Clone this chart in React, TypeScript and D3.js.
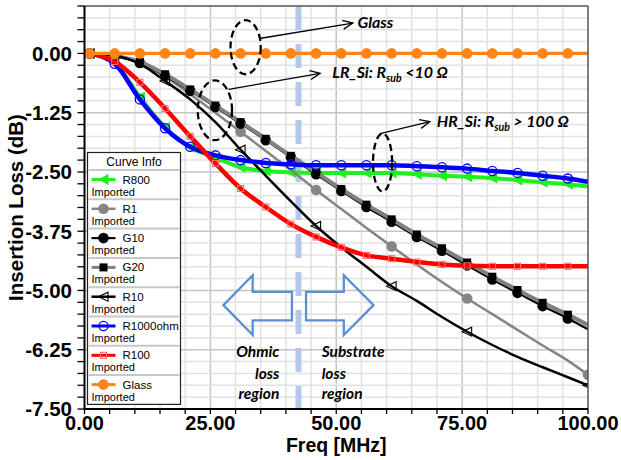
import React from 'react';
import * as d3 from 'd3';

// ---------------- data ----------------
const FREQ = [1, 6, 11, 16, 21, 26, 31, 36, 41, 46, 51, 56, 61, 66, 71, 76, 81, 86, 91, 96, 100];
const R800 = [0, -0.21, -0.92, -1.56, -1.98, -2.2, -2.4, -2.48, -2.51, -2.52, -2.52, -2.52, -2.52, -2.55, -2.58, -2.6, -2.63, -2.67, -2.72, -2.76, -2.81];
const R1 = [0, -0.05, -0.2, -0.49, -0.86, -1.25, -1.65, -2.06, -2.46, -2.88, -3.28, -3.68, -4.07, -4.45, -4.82, -5.17, -5.5, -5.83, -6.16, -6.48, -6.78];
const G10 = [0, -0.06, -0.2, -0.47, -0.79, -1.13, -1.48, -1.83, -2.19, -2.55, -2.9, -3.24, -3.55, -3.87, -4.16, -4.47, -4.77, -5.05, -5.33, -5.59, -5.82];
const G20 = [0, -0.05, -0.18, -0.44, -0.76, -1.1, -1.45, -1.8, -2.16, -2.51, -2.86, -3.19, -3.5, -3.82, -4.11, -4.41, -4.71, -4.99, -5.26, -5.51, -5.73];
const R10 = [0, -0.05, -0.22, -0.58, -0.97, -1.45, -2.03, -2.58, -3.12, -3.64, -4.09, -4.5, -4.91, -5.22, -5.56, -5.87, -6.15, -6.4, -6.62, -6.83, -7.0];
const R1000OHM = [0, -0.22, -0.97, -1.58, -1.97, -2.15, -2.25, -2.31, -2.34, -2.36, -2.36, -2.36, -2.36, -2.38, -2.4, -2.43, -2.48, -2.52, -2.58, -2.64, -2.71];
const R100 = [0, -0.17, -0.61, -1.16, -1.75, -2.32, -2.85, -3.24, -3.6, -3.87, -4.09, -4.26, -4.33, -4.4, -4.45, -4.48, -4.49, -4.49, -4.49, -4.49, -4.49];
const GLASS = [0, 0, 0, 0, 0, 0, 0, 0, 0, 0, 0, 0, 0, 0, 0, 0, 0, 0, 0, 0, 0];

const SERIES_NAMES = ['R800', 'R1', 'G10', 'G20', 'R10', 'R1000ohm', 'R100', 'Glass'];
const SERIES_VALUES = [R800, R1, G10, G20, R10, R1000OHM, R100, GLASS];
const MARKERS_EVERY = [0, 1, 2, 3, 4, 5, 6, 7, 8, 9, 10, 11, 12, 13, 14, 15, 16, 17, 18, 19];
const MARKERS_SPARSE = [0, 3, 6, 9, 12, 15, 20];

const X_TICKS = [0, 25, 50, 75, 100];
const Y_TICKS = [0, -1.25, -2.5, -3.75, -5, -6.25, -7.5];
const DIVIDER_FREQ = 42.5;

// ---------------- styles ----------------
type Style = { color: string; width: number; marker: string; mcolor: string; idx: number[] };
const STYLES: Record<string, Style> = {
  R800: { color: '#1ff01f', width: 4, marker: 'triL', mcolor: '#1ff01f', idx: MARKERS_EVERY },
  R1: { color: '#858585', width: 2.5, marker: 'circle', mcolor: '#858585', idx: MARKERS_SPARSE },
  G10: { color: '#000000', width: 2.2, marker: 'circle', mcolor: '#000000', idx: MARKERS_EVERY },
  G20: { color: '#808080', width: 4, marker: 'square', mcolor: '#000000', idx: MARKERS_EVERY },
  R10: { color: '#000000', width: 2.5, marker: 'triLOpen', mcolor: '#000000', idx: MARKERS_SPARSE },
  R1000ohm: { color: '#0000ff', width: 4.5, marker: 'circleOpen', mcolor: '#0000ff', idx: MARKERS_EVERY },
  R100: { color: '#ff0000', width: 4.5, marker: 'squareOpen', mcolor: '#ff6a6a', idx: MARKERS_EVERY },
  Glass: { color: '#ff8519', width: 3.3, marker: 'circle', mcolor: '#ff8519', idx: MARKERS_EVERY },
};

const W = 621;
const H = 460;
const PL = 84.5, PR = 588, PT = 6, PB = 409;

const x = d3.scaleLinear().domain([0, 100]).range([PL, PR]);
const y = d3.scaleLinear().domain([-7.5, 1]).range([PB, PT]);

function Marker({ kind, cx, cy, color }: { kind: string; cx: number; cy: number; color: string }) {
  switch (kind) {
    case 'triL':
      return <polygon points={`${cx - 5.5},${cy} ${cx + 5},${cy - 5.5} ${cx + 5},${cy + 5.5}`} fill={color} />;
    case 'triLOpen':
      return <polygon points={`${cx - 5},${cy} ${cx + 4.5},${cy - 4.5} ${cx + 4.5},${cy + 4.5}`} fill="none" stroke={color} strokeWidth={1.1} />;
    case 'circle':
      return <circle cx={cx} cy={cy} r={5.3} fill={color} />;
    case 'circleOpen':
      return <circle cx={cx} cy={cy} r={4.6} fill="none" stroke={color} strokeWidth={1.3} />;
    case 'square':
      return <rect x={cx - 4} y={cy - 4} width={8} height={8} fill={color} />;
    case 'squareOpen':
      return <rect x={cx - 3} y={cy - 3} width={6} height={6} fill="none" stroke={color} strokeWidth={1.1} />;
    default:
      return null;
  }
}

function arrowHead(x1: number, y1: number, x2: number, y2: number, len = 11, ang = 0.42) {
  const a = Math.atan2(y2 - y1, x2 - x1);
  const p1 = [x2 - len * Math.cos(a - ang), y2 - len * Math.sin(a - ang)];
  const p2 = [x2 - len * Math.cos(a + ang), y2 - len * Math.sin(a + ang)];
  return `M${p1[0]},${p1[1]} L${x2},${y2} L${p2[0]},${p2[1]}`;
}

export default function App() {
  const line = d3
    .line<[number, number]>()
    .x((d) => x(d[0]))
    .y((d) => y(d[1]))
    .curve(d3.curveMonotoneX);

  const xGrid = d3.range(1, 20).map((i) => i * 5);
  const yGrid = d3.range(1, 34).map((i) => -7.5 + i * 0.25);
  const isMajorX = (v: number) => Math.abs(v / 25 - Math.round(v / 25)) < 1e-6;
  const isMajorY = (v: number) => Math.abs(v / 1.25 - Math.round(v / 1.25)) < 1e-6;

  const annFont = 'Lato, "Open Sans", sans-serif';
  const tickFont = '"Liberation Sans", Arial, sans-serif';

  // big outline arrows (data units)
  const la = { tip: 27.6, head: 33.4, end: 41.2 };
  const ra = { start: 44, head: 51.5, tip: 57.4 };
  const ay = { mid: -5.31, hTop: -4.68, hBot: -5.94, sTop: -5.03, sBot: -5.63 };
  const leftArrow = [
    [la.tip, ay.mid], [la.head, ay.hTop], [la.head, ay.sTop], [la.end, ay.sTop],
    [la.end, ay.sBot], [la.head, ay.sBot], [la.head, ay.hBot],
  ].map((p) => `${x(p[0])},${y(p[1])}`).join(' ');
  const rightArrow = [
    [ra.tip, ay.mid], [ra.head, ay.hTop], [ra.head, ay.sTop], [ra.start, ay.sTop],
    [ra.start, ay.sBot], [ra.head, ay.sBot], [ra.head, ay.hBot],
  ].map((p) => `${x(p[0])},${y(p[1])}`).join(' ');

  const ellipses = [
    { f: 32.0, v: 0.13, rf: 3.0, rv: 0.57 },
    { f: 25.9, v: -1.2, rf: 3.4, rv: 0.63 },
    { f: 59.2, v: -2.3, rf: 1.9, rv: 0.61 },
  ];
  const pointers = [
    { f1: 35.05, v1: 0.32, f2: 53.3, v2: 0.64 },
    { f1: 28.6, v1: -0.76, f2: 46.8, v2: -0.42 },
    { f1: 58.7, v1: -1.69, f2: 68.6, v2: -1.44 },
  ];

  const legX = 87.5, legY = 152.5, legW = 93, rowH = 29.3, headH = 17.5;

  return (
    <svg width={W} height={H} style={{ position: 'absolute', left: 0, top: 0, background: '#fff' }}>
      <defs>
        <clipPath id="plotClip">
          <rect x={PL} y={PT} width={PR - PL} height={PB - PT} />
        </clipPath>
      </defs>
      <rect x={0} y={0} width={W} height={H} fill="#fff" />
      {/* grid */}
      {xGrid.map((v) => (
        <line key={'gx' + v} x1={x(v)} x2={x(v)} y1={PT} y2={PB} stroke={isMajorX(v) ? '#c4c4c4' : '#e2e2e2'} strokeWidth={1.5} />
      ))}
      {yGrid.map((v) => (
        <line key={'gy' + v} x1={PL} x2={PR} y1={y(v)} y2={y(v)} stroke={isMajorY(v) ? '#c4c4c4' : '#e2e2e2'} strokeWidth={1.5} />
      ))}
      {/* divider */}
      <line x1={x(DIVIDER_FREQ)} x2={x(DIVIDER_FREQ)} y1={PT} y2={PB} stroke="#b3c8ea" strokeWidth={6} strokeDasharray="24,14" />
      {/* region arrows */}
      <polygon points={leftArrow} fill="none" stroke="#5b8fd3" strokeWidth={2.3} />
      <polygon points={rightArrow} fill="none" stroke="#5b8fd3" strokeWidth={2.3} />
      {/* series */}
      <g clipPath="url(#plotClip)">
        {SERIES_NAMES.map((name, si) => {
          const st = STYLES[name];
          const pts: [number, number][] = FREQ.map((f, i) => [f, SERIES_VALUES[si][i]]);
          return (
            <g key={name}>
              <path d={line(pts) || ''} fill="none" stroke={st.color} strokeWidth={st.width} strokeLinejoin="round" />
              {st.idx.map((i) => (
                <Marker key={i} kind={st.marker} cx={x(pts[i][0])} cy={y(pts[i][1])} color={st.mcolor} />
              ))}
            </g>
          );
        })}
      </g>
      {/* frame */}
      <line x1={PL} x2={PR} y1={PT} y2={PT} stroke="#555" strokeWidth={1.5} />
      <line x1={PR} x2={PR} y1={PT} y2={PB} stroke="#555" strokeWidth={1.5} />
      <line x1={PL} x2={PL} y1={PT} y2={PB + 1} stroke="#000" strokeWidth={2} />
      <line x1={PL - 1} x2={PR} y1={PB} y2={PB} stroke="#000" strokeWidth={2} />
      {/* ticks */}
      {[...yGrid, -7.5, 1].map((v) => (
        <line key={'ty' + v} x1={PL - 7} x2={PL} y1={y(v)} y2={y(v)} stroke="#000" strokeWidth={1.3} />
      ))}
      {[0, ...xGrid, 100].map((v) => (
        <line key={'tx' + v} x1={x(v)} x2={x(v)} y1={PB} y2={PB + 5} stroke="#000" strokeWidth={1.3} />
      ))}
      {Y_TICKS.map((v) => (
        <text key={'ly' + v} x={72} y={y(v)} dy="0.36em" textAnchor="end" fontFamily={tickFont} fontWeight="bold" fontSize={20.5} fill="#000">
          {v.toFixed(2)}
        </text>
      ))}
      {X_TICKS.map((v) => (
        <text key={'lx' + v} x={x(v)} y={430} textAnchor="middle" fontFamily={tickFont} fontWeight="bold" fontSize={20} fill="#000">
          {v.toFixed(2)}
        </text>
      ))}
      <text x={(PL + PR) / 2} y={452} textAnchor="middle" fontFamily={tickFont} fontWeight="bold" fontSize={19.5}>Freq [MHz]</text>
      <text transform={`translate(23,${(PT + PB) / 2}) rotate(-90)`} textAnchor="middle" fontFamily={tickFont} fontWeight="bold" fontSize={20.5}>
        Insertion Loss (dB)
      </text>
      {/* region labels */}
      {['Ohmic', 'loss', 'region'].map((t, i) => (
        <text key={'o' + t} x={x(38.7)} y={y([-6.4, -6.86, -7.28][i])} textAnchor="end" fontFamily={annFont} fontStyle="italic" fontWeight="bold" fontSize={15.5}>{t}</text>
      ))}
      {['Substrate', 'loss', 'region'].map((t, i) => (
        <text key={'s' + t} x={x(47.1)} y={y([-6.4, -6.86, -7.28][i])} fontFamily={annFont} fontStyle="italic" fontWeight="bold" fontSize={15.5}>{t}</text>
      ))}
      {/* ellipses and pointers */}
      {ellipses.map((e, i) => (
        <ellipse key={'e' + i} cx={x(e.f)} cy={y(e.v)} rx={x(e.rf) - x(0)} ry={y(0) - y(e.rv)} fill="none" stroke="#000" strokeWidth={2.3} strokeDasharray="7,4" />
      ))}
      {pointers.map((p, i) => {
        const x1 = x(p.f1), y1 = y(p.v1), x2 = x(p.f2), y2 = y(p.v2);
        return (
          <g key={'p' + i}>
            <line x1={x1} y1={y1} x2={x2} y2={y2} stroke="#000" strokeWidth={1.3} />
            <path d={arrowHead(x1, y1, x2, y2)} fill="none" stroke="#000" strokeWidth={1.3} />
          </g>
        );
      })}
      <text x={x(54.2)} y={y(0.53)} fontFamily={annFont} fontStyle="italic" fontWeight="bold" fontSize={16}>Glass</text>
      <text x={x(49.2)} y={y(-0.51)} fontFamily={annFont} fontStyle="italic" fontWeight="bold" fontSize={16}>
        LR_Si: R<tspan fontSize={10.5} dy={4}>sub</tspan><tspan dy={-4}> {'<'}10 Ω</tspan>
      </text>
      <text x={x(69.95)} y={y(-1.55)} fontFamily={annFont} fontStyle="italic" fontWeight="bold" fontSize={16}>
        HR_Si: R<tspan fontSize={10.5} dy={4}>sub</tspan><tspan dy={-4}> {'>'} 100 Ω</tspan>
      </text>
      {/* legend */}
      <g>
        <rect x={legX} y={legY} width={legW} height={headH + rowH * SERIES_NAMES.length} fill="#fff" stroke="#222" strokeWidth={1.2} />
        <text x={legX + legW / 2} y={legY + 13} textAnchor="middle" fontFamily={tickFont} fontSize={12}>Curve Info</text>
        {SERIES_NAMES.map((name, i) => {
          const st = STYLES[name];
          const top = legY + headH + rowH * i;
          const ly = top + 9.5;
          return (
            <g key={'lg' + name}>
              <line x1={legX + 1} x2={legX + legW - 1} y1={top} y2={top} stroke="#c8c8c8" strokeWidth={2} />
              <line x1={legX + 4} x2={legX + 28} y1={ly} y2={ly} stroke={st.color} strokeWidth={Math.min(st.width, 3)} />
              <Marker kind={st.marker} cx={legX + 16} cy={ly} color={st.mcolor} />
              <text x={legX + 35} y={top + 13.5} fontFamily={tickFont} fontSize={11.5}>{name}</text>
              <text x={legX + 4} y={top + 25.5} fontFamily={tickFont} fontSize={11}>Imported</text>
            </g>
          );
        })}
      </g>
    </svg>
  );
}
